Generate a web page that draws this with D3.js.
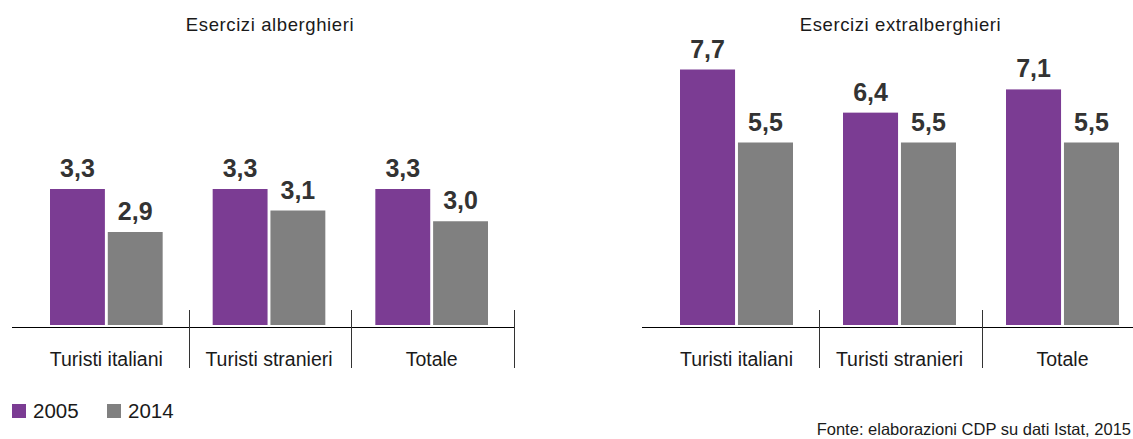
<!DOCTYPE html>
<html>
<head>
<meta charset="utf-8">
<script src="https://cdn.jsdelivr.net/npm/d3@7/dist/d3.min.js"></script>
<style>
  html, body { margin: 0; padding: 0; background: #fff; }
  svg { display: block; font-family: "Liberation Sans", Arial, Helvetica, sans-serif; }
</style>
</head>
<body>
<svg id="chart" width="1133" height="439"></svg>
<script>
// Permanenza media (notti) per tipo di esercizio
const categories = ["Turisti italiani", "Turisti stranieri", "Totale"];
const series = ["2005", "2014"];
const alberghieri2005 = [3.3, 3.3, 3.3];
const alberghieri2014 = [2.9, 3.1, 3.0];
const extralberghieri2005 = [7.7, 6.4, 7.1];
const extralberghieri2014 = [5.5, 5.5, 5.5];
const panelTitles = ["Esercizi alberghieri", "Esercizi extralberghieri"];
const sourceNote = "Fonte: elaborazioni CDP su dati Istat, 2015";

const colors = d3.scaleOrdinal().domain(series).range(["#7b3c93", "#808080"]);
const it = d3.formatLocale({ decimal: ",", thousands: ".", grouping: [3], currency: ["", " €"] });
const fmt = it.format(".1f");

const svg = d3.select("#chart");
const baseY = 325;     // bottom of the bars
const axisY = 327.5;   // category axis line

function drawPanel(title, v2005, v2014, range, y) {
  const g = svg.append("g");
  const x0 = d3.scaleBand().domain(categories).range(range).paddingInner(0).paddingOuter(0);
  const bw = x0.bandwidth();
  const x1 = d3.scaleBand().domain(series).range([24, bw - 26]).paddingInner(0.05);

  const rows = categories.map((c, i) => ({ cat: c, values: [
    { key: series[0], v: v2005[i] },
    { key: series[1], v: v2014[i] }
  ]}));

  // title
  g.append("text")
    .attr("x", (range[0] + range[1]) / 2)
    .attr("y", 30.5)
    .attr("text-anchor", "middle")
    .attr("font-size", 18.5)
    .attr("letter-spacing", 0.6)
    .attr("fill", "#1a1a1a")
    .text(title);

  const groups = g.selectAll("g.cat").data(rows).join("g")
    .attr("class", "cat")
    .attr("transform", d => `translate(${x0(d.cat)},0)`);

  groups.selectAll("rect").data(d => d.values).join("rect")
    .attr("x", d => x1(d.key))
    .attr("width", x1.bandwidth())
    .attr("y", d => y(d.v))
    .attr("height", d => y.range()[0] - y(d.v))
    .attr("fill", d => colors(d.key));

  groups.selectAll("text.val").data(d => d.values).join("text")
    .attr("class", "val")
    .attr("x", d => x1(d.key) + x1.bandwidth() / 2)
    .attr("y", d => y(d.v) - 12)
    .attr("text-anchor", "middle")
    .attr("font-size", 25)
    .attr("font-weight", "bold")
    .attr("fill", "#333")
    .text(d => fmt(d.v));

  // category axis
  g.append("line")
    .attr("x1", range[0] - 14).attr("x2", range[1])
    .attr("y1", axisY).attr("y2", axisY)
    .attr("stroke", "#000").attr("stroke-width", 1);

  categories.forEach(c => {
    const xe = Math.round(x0(c) + bw) + 0.5;
    g.append("line")
      .attr("x1", xe).attr("x2", xe)
      .attr("y1", 310).attr("y2", 368)
      .attr("stroke", "#333").attr("stroke-width", 1);
  });

  g.selectAll("text.cat").data(categories).join("text")
    .attr("class", "cat")
    .attr("x", d => x0(d) + bw / 2 - 1)
    .attr("y", 366)
    .attr("text-anchor", "middle")
    .attr("font-size", 19.5)
    .attr("fill", "#1a1a1a")
    .text(d => d);
}

const yLeft = d3.scaleLinear().domain([2.035, 3.3]).range([baseY, 189]);
const yRight = d3.scaleLinear().domain([0, 7.7]).range([baseY, 69.5]);

drawPanel(panelTitles[0], alberghieri2005, alberghieri2014, [26, 514], yLeft);
drawPanel(panelTitles[1], extralberghieri2005, extralberghieri2014, [656, 1145], yRight);

// legend
const legend = svg.append("g");
const legendX = [12, 107];
series.forEach((s, i) => {
  legend.append("rect")
    .attr("x", legendX[i]).attr("y", 404)
    .attr("width", 14).attr("height", 14)
    .attr("fill", colors(s));
  legend.append("text")
    .attr("x", legendX[i] + 21).attr("y", 418)
    .attr("font-size", 20.5)
    .attr("fill", "#1a1a1a")
    .text(s);
});

// source
svg.append("text")
  .attr("x", 1131).attr("y", 435)
  .attr("text-anchor", "end")
  .attr("font-size", 16.5)
  .attr("fill", "#1a1a1a")
  .text(sourceNote);
</script>
</body>
</html>
